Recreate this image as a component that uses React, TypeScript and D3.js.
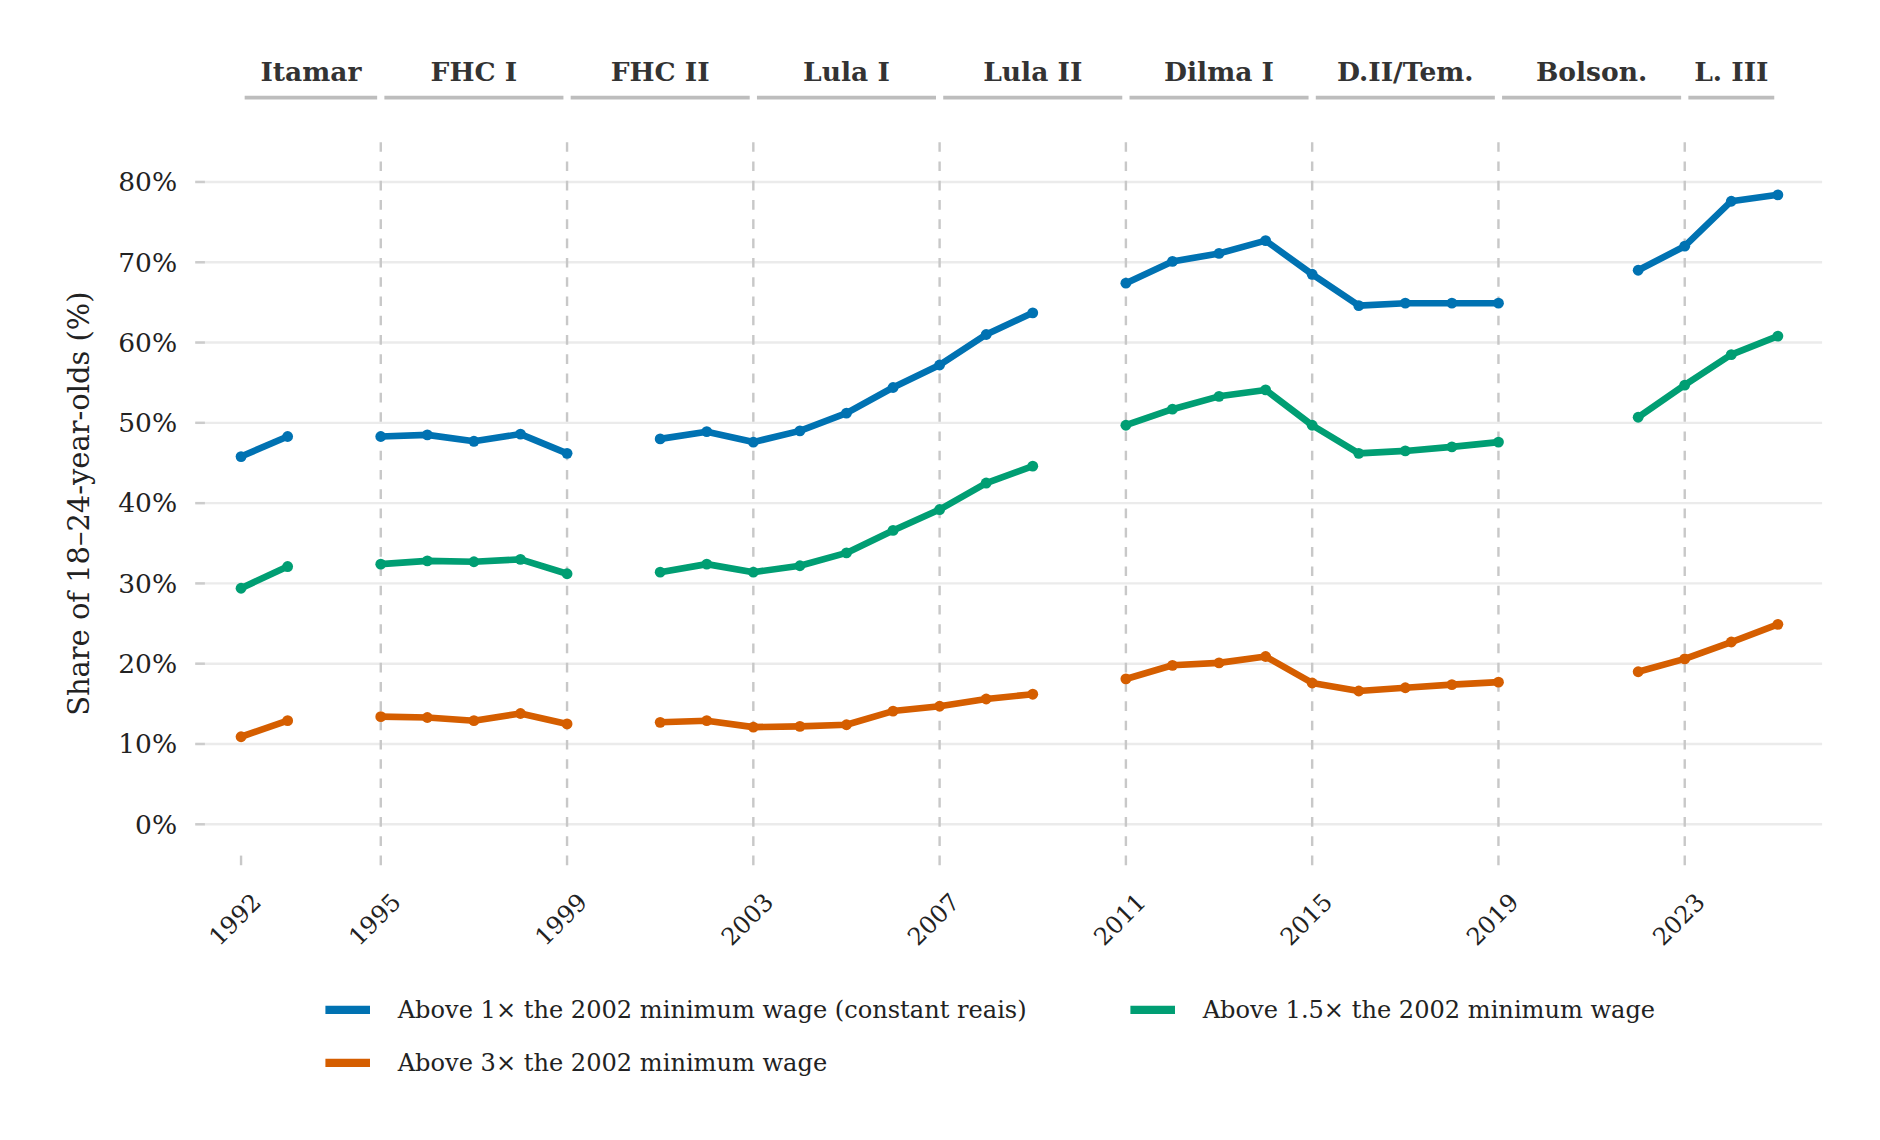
import React from 'react';
import * as d3 from 'd3';

const years1 = [1992, 1993];
const years2 = [1995, 1996, 1997, 1998, 1999];
const years3 = [2001, 2002, 2003, 2004, 2005, 2006, 2007, 2008, 2009];
const years4 = [2011, 2012, 2013, 2014, 2015, 2016, 2017, 2018, 2019];
const years5 = [2022, 2023, 2024, 2025];
const segments = [years1, years2, years3, years4, years5];

const above1 = [[45.8, 48.3], [48.3, 48.5, 47.7, 48.6, 46.2], [48.0, 48.9, 47.6, 49.0, 51.2, 54.4, 57.2, 61.0, 63.7], [67.4, 70.1, 71.1, 72.7, 68.5, 64.6, 64.9, 64.9, 64.9], [69.0, 72.0, 77.6, 78.4]];
const above15 = [[29.4, 32.1], [32.4, 32.8, 32.7, 33.0, 31.2], [31.4, 32.4, 31.4, 32.2, 33.8, 36.6, 39.2, 42.5, 44.6], [49.7, 51.7, 53.3, 54.1, 49.7, 46.2, 46.5, 47.0, 47.6], [50.7, 54.7, 58.5, 60.8]];
const above3 = [[10.9, 12.9], [13.4, 13.3, 12.9, 13.8, 12.5], [12.7, 12.9, 12.1, 12.2, 12.4, 14.1, 14.7, 15.6, 16.2], [18.1, 19.8, 20.1, 20.9, 17.6, 16.6, 17.0, 17.4, 17.7], [19.0, 20.6, 22.7, 24.9]];

const series = [
  { name: 'Above 1× the 2002 minimum wage (constant reais)', color: '#0072B2', values: above1 },
  { name: 'Above 1.5× the 2002 minimum wage', color: '#009E73', values: above15 },
  { name: 'Above 3× the 2002 minimum wage', color: '#D55E00', values: above3 },
];

const terms = [
  { label: 'Itamar', from: 1992, to: 1995 },
  { label: 'FHC I', from: 1995, to: 1999 },
  { label: 'FHC II', from: 1999, to: 2003 },
  { label: 'Lula I', from: 2003, to: 2007 },
  { label: 'Lula II', from: 2007, to: 2011 },
  { label: 'Dilma I', from: 2011, to: 2015 },
  { label: 'D.II/Tem.', from: 2015, to: 2019 },
  { label: 'Bolson.', from: 2019, to: 2023 },
  { label: 'L. III', from: 2023, to: 2025 },
];
const xTicks = [1992, 1995, 1999, 2003, 2007, 2011, 2015, 2019, 2023];
const vLines = [1995, 1999, 2003, 2007, 2011, 2015, 2019, 2023];
const yTicks = [0, 10, 20, 30, 40, 50, 60, 70, 80];

const font = '"DejaVu Serif", "Liberation Serif", serif';

export default function App() {
  const x = d3.scaleLinear().domain([1992, 2023]).range([200, 1398]);
  const y = d3.scaleLinear().domain([0, 80]).range([684, 151]);
  const line = d3.line<[number, number]>().x(d => x(d[0])).y(d => y(d[1]));

  return (
    <svg width={1880} height={1140} viewBox="0 0 1560 946"
      style={{ position: 'absolute', left: 0, top: 0, background: '#fff' }} fontFamily={font}>
      {yTicks.map(t => (
        <g key={t}>
          <line x1={162} x2={1512} y1={y(t)} y2={y(t)} stroke="#ebebeb" strokeWidth={2} />
          <line x1={162} x2={170} y1={y(t)} y2={y(t)} stroke="#ccc" strokeWidth={2} />
          <text x={147} y={y(t)} dy="0.35em" textAnchor="end" fontSize={22} fill="#222">{t}%</text>
        </g>
      ))}
      {vLines.map(v => (
        <line key={v} x1={x(v)} x2={x(v)} y1={118} y2={720} stroke="#c8c8c8" strokeWidth={2} strokeDasharray="8,8" />
      ))}
      <line x1={x(1992)} x2={x(1992)} y1={710} y2={718} stroke="#c8c8c8" strokeWidth={2} />
      {xTicks.map(t => (
        <text key={t} transform={`translate(${x(t) + 8},${740}) rotate(-45)`} textAnchor="end" dy="0.7em" fontSize={20} fill="#222">{t}</text>
      ))}
      {terms.map(tm => (
        <g key={tm.label}>
          <line x1={x(tm.from) + 3} x2={x(tm.to) - 3} y1={81} y2={81} stroke="#bdbdbd" strokeWidth={3} />
          <text x={(x(tm.from) + x(tm.to)) / 2} y={67} textAnchor="middle" fontSize={22} fontWeight="bold" fill="#333">{tm.label}</text>
        </g>
      ))}
      {series.map(s => (
        <g key={s.name}>
          {segments.map((yrs, i) => {
            const pts = yrs.map((yr, j) => [yr, s.values[i][j]] as [number, number]);
            return (
              <g key={i}>
                <path d={line(pts) ?? ''} fill="none" stroke={s.color} strokeWidth={5.5} strokeLinejoin="round" />
                {pts.map(p => <circle key={p[0]} cx={x(p[0])} cy={y(p[1])} r={4.5} fill={s.color} />)}
              </g>
            );
          })}
        </g>
      ))}
      <text transform={`translate(74,418) rotate(-90)`} textAnchor="middle" fontSize={24} fill="#222">Share of 18–24-year-olds (%)</text>
      {[
        { s: series[0], lx: 270, ly: 838 },
        { s: series[1], lx: 938, ly: 838 },
        { s: series[2], lx: 270, ly: 882 },
      ].map(({ s, lx, ly }) => (
        <g key={s.name}>
          <line x1={lx} x2={lx + 37} y1={ly} y2={ly} stroke={s.color} strokeWidth={7} />
          <text x={lx + 60} y={ly} dy="0.35em" fontSize={20} fill="#222">{s.name}</text>
        </g>
      ))}
    </svg>
  );
}
